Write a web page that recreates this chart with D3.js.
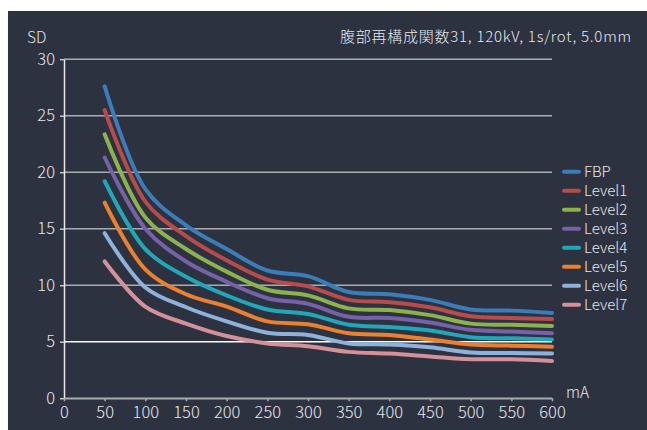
<!DOCTYPE html>
<html>
<head>
<meta charset="utf-8">
<script src="https://cdn.jsdelivr.net/npm/d3@7"></script>
<style>
  html, body { margin: 0; padding: 0; background: #ffffff; }
  svg { display: block; }
  text { font-family: "Noto Sans CJK JP", "Noto Sans", sans-serif; fill: #e6e8ec; font-weight: 300; }
</style>
</head>
<body>
<svg id="chart" width="647" height="430"></svg>
<script>
// Tube current (mA) on the x axis
const mA = [50, 100, 150, 200, 250, 300, 350, 400, 450, 500, 550, 600];

// Image noise (SD) for each reconstruction
const fbp    = [27.6, 18.5, 15.3, 13.2, 11.3, 10.8, 9.4, 9.2, 8.7, 7.85, 7.75, 7.55];
const level1 = [25.5, 17.4, 14.35, 12.2, 10.5, 9.9, 8.7, 8.5, 8.05, 7.25, 7.1, 7.0];
const level2 = [23.35, 16.0, 13.2, 11.2, 9.6, 9.1, 7.95, 7.8, 7.35, 6.6, 6.5, 6.4];
const level3 = [21.3, 15.0, 12.1, 10.3, 8.85, 8.35, 7.2, 7.1, 6.7, 6.05, 5.9, 5.75];
const level4 = [19.2, 13.2, 10.75, 9.1, 7.85, 7.45, 6.5, 6.3, 6.0, 5.4, 5.3, 5.2];
const level5 = [17.3, 11.4, 9.2, 8.1, 6.8, 6.55, 5.75, 5.6, 5.2, 4.75, 4.65, 4.55];
const level6 = [14.6, 9.8, 8.05, 6.8, 5.8, 5.6, 4.85, 4.75, 4.5, 4.05, 4.0, 3.95];
const level7 = [12.1, 8.1, 6.6, 5.5, 4.85, 4.6, 4.1, 3.95, 3.7, 3.45, 3.45, 3.3];

const seriesNames = ["FBP", "Level1", "Level2", "Level3", "Level4", "Level5", "Level6", "Level7"];
const seriesValues = [fbp, level1, level2, level3, level4, level5, level6, level7];
const seriesColors = ["#3b7db9", "#b84c4a", "#8db24d", "#7862a7", "#22a7b9", "#e9812f", "#8fb2db", "#d5919a"];

const xTicks = [0, 50, 100, 150, 200, 250, 300, 350, 400, 450, 500, 550, 600];
const yTicks = [0, 5, 10, 15, 20, 25, 30];

const titleText = "腹部再構成関数31, 120kV, 1s/rot, 5.0mm";

const svg = d3.select("#chart");

// Dark panel
svg.append("rect")
  .attr("x", 8).attr("y", 11)
  .attr("width", 647 - 8).attr("height", 430 - 11)
  .attr("fill", "#2d3240");

const x = d3.scaleLinear().domain([0, 600]).range([64, 552]);
const y = d3.scaleLinear().domain([0, 30]).range([398.2, 59.2]);

// Horizontal gridlines (the 5 line is brighter)
svg.append("g")
  .selectAll("line")
  .data(yTicks)
  .join("line")
  .attr("x1", x(0)).attr("x2", x(600))
  .attr("y1", d => y(d)).attr("y2", d => y(d))
  .attr("stroke", d => d === 5 ? "#ffffff" : "#a9abb0")
  .attr("stroke-width", 1.5);

// Y axis
const yAxis = svg.append("g")
  .attr("transform", `translate(${x(0)},0)`)
  .call(d3.axisLeft(y).tickValues(yTicks).tickSize(4).tickPadding(5).tickSizeOuter(0));
yAxis.select(".domain").attr("stroke", "#e8e8ea").attr("stroke-width", 1.5);
yAxis.selectAll(".tick line").attr("stroke", "#c8c9cc").attr("stroke-width", 1.5);
yAxis.selectAll(".tick text")
  .attr("font-size", 16.5)
  .style("font-family", '"Noto Sans CJK JP", "Noto Sans", sans-serif')
  .style("font-weight", 300)
  .attr("fill", "#e6e8ec");

// X axis
const xAxis = svg.append("g")
  .attr("transform", `translate(0,${y(0)})`)
  .call(d3.axisBottom(x).tickValues(xTicks).tickSize(3).tickPadding(5).tickSizeOuter(0));
xAxis.select(".domain").attr("stroke", "#a9abb0").attr("stroke-width", 1.5);
xAxis.selectAll(".tick line").attr("stroke", "#a9abb0").attr("stroke-width", 1.5);
xAxis.selectAll(".tick text")
  .attr("font-size", 16.5)
  .style("font-family", '"Noto Sans CJK JP", "Noto Sans", sans-serif')
  .style("font-weight", 300)
  .attr("fill", "#e6e8ec");

// Series lines
const line = d3.line()
  .x((d, i) => x(mA[i]))
  .y(d => y(d))
  .curve(d3.curveCatmullRom.alpha(0.5));

svg.append("g")
  .selectAll("path")
  .data(seriesValues)
  .join("path")
  .attr("d", d => line(d))
  .attr("fill", "none")
  .attr("stroke", (d, i) => seriesColors[i])
  .attr("stroke-width", 4)
  .attr("stroke-linecap", "round")
  .attr("stroke-linejoin", "round");

// Axis titles and chart title
svg.append("text").attr("x", 27).attr("y", 43).attr("font-size", 15.5).text("SD");
svg.append("text").attr("x", 566).attr("y", 398).attr("font-size", 15.5).text("mA");
svg.append("text")
  .attr("x", 631).attr("y", 42)
  .attr("text-anchor", "end")
  .attr("font-size", 15)
  .attr("textLength", 291)
  .attr("lengthAdjust", "spacing")
  .text(titleText);

// Legend
const legend = svg.append("g")
  .selectAll("g")
  .data(seriesNames)
  .join("g")
  .attr("transform", (d, i) => `translate(0,${171.7 + i * 19})`);
legend.append("line")
  .attr("x1", 564).attr("x2", 579)
  .attr("y1", 0).attr("y2", 0)
  .attr("stroke", (d, i) => seriesColors[i])
  .attr("stroke-width", 4)
  .attr("stroke-linecap", "round");
legend.append("text")
  .attr("x", 584).attr("y", 0)
  .attr("dy", "0.36em")
  .attr("font-size", 15)
  .text(d => d);
</script>
</body>
</html>
